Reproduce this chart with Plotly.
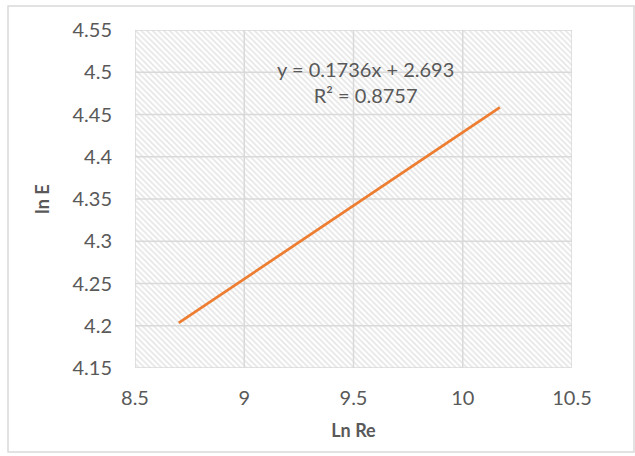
import plotly.graph_objects as go

# Fitted trendline of ln E against ln Re
ln_re_span = [8.70, 10.17]
slope = 0.1736
intercept = 2.693
r_squared = 0.8757

x_ticks = [8.5, 9, 9.5, 10, 10.5]
y_ticks = [4.15, 4.2, 4.25, 4.3, 4.35, 4.4, 4.45, 4.5, 4.55]

x_range = [x_ticks[0], x_ticks[-1]]
y_range = [y_ticks[0], y_ticks[-1]]

ln_e_fit = [slope * x + intercept for x in ln_re_span]

FONT = "Lato"
GREY = "#595959"
GRID = "#d9d9d9"

fig = go.Figure()

# hatched plot-area background
fig.add_trace(go.Scatter(
    x=[x_range[0], x_range[1], x_range[1], x_range[0], x_range[0]],
    y=[y_range[0], y_range[0], y_range[1], y_range[1], y_range[0]],
    mode="lines", fill="toself", line=dict(width=0),
    fillcolor="rgba(0,0,0,0)",
    fillpattern=dict(shape="\\", fgcolor="#cbcbcb", bgcolor="white",
                     size=4, solidity=0.4),
    hoverinfo="skip", showlegend=False,
))

# gridlines on top of the hatching
gx, gy = [], []
for v in x_ticks:
    gx += [v, v, None]
    gy += [y_range[0], y_range[1], None]
for v in y_ticks:
    gx += [x_range[0], x_range[1], None]
    gy += [v, v, None]
fig.add_trace(go.Scatter(
    x=gx, y=gy, mode="lines", line=dict(color=GRID, width=1.5),
    hoverinfo="skip", showlegend=False,
))

fig.add_trace(go.Scatter(
    x=ln_re_span, y=ln_e_fit, mode="lines",
    line=dict(color="#ED7D31", width=2.75),
    showlegend=False,
))

fig.add_annotation(
    x=9.557, y=4.489, xref="x", yref="y",
    text=f"y = {slope}x + {intercept}<br>R² = {r_squared}",
    showarrow=False, align="center",
    font=dict(family=FONT, size=20, color=GREY),
)

# chart border
fig.add_shape(type="rect", xref="paper", yref="paper",
              x0=-0.2906, x1=1.1419, y0=-0.2485, y1=1.071,
              line=dict(color=GRID, width=1.5), layer="below")

fig.update_layout(
    width=635, height=456,
    margin=dict(l=135, r=63, t=30, b=88),
    paper_bgcolor="white", plot_bgcolor="white",
    font=dict(family=FONT, color=GREY),
    xaxis=dict(
        range=x_range, tickvals=x_ticks, ticktext=[f"{v:g}" for v in x_ticks],
        showgrid=False, showline=False, zeroline=False,
        ticks="", ticklabelstandoff=16,
        tickfont=dict(size=20, color=GREY, family=FONT),
        title=dict(text="<b>Ln Re</b>", standoff=16,
                   font=dict(size=18, color=GREY, family=FONT)),
    ),
    yaxis=dict(
        range=y_range, tickvals=y_ticks, ticktext=[f"{v:g}" for v in y_ticks],
        showgrid=False, showline=False, zeroline=False,
        ticks="", ticklabelstandoff=22,
        tickfont=dict(size=20, color=GREY, family=FONT),
        title=dict(text="<b>ln E</b>", standoff=18,
                   font=dict(size=18, color=GREY, family=FONT)),
    ),
)

fig.write_html("out.html")
